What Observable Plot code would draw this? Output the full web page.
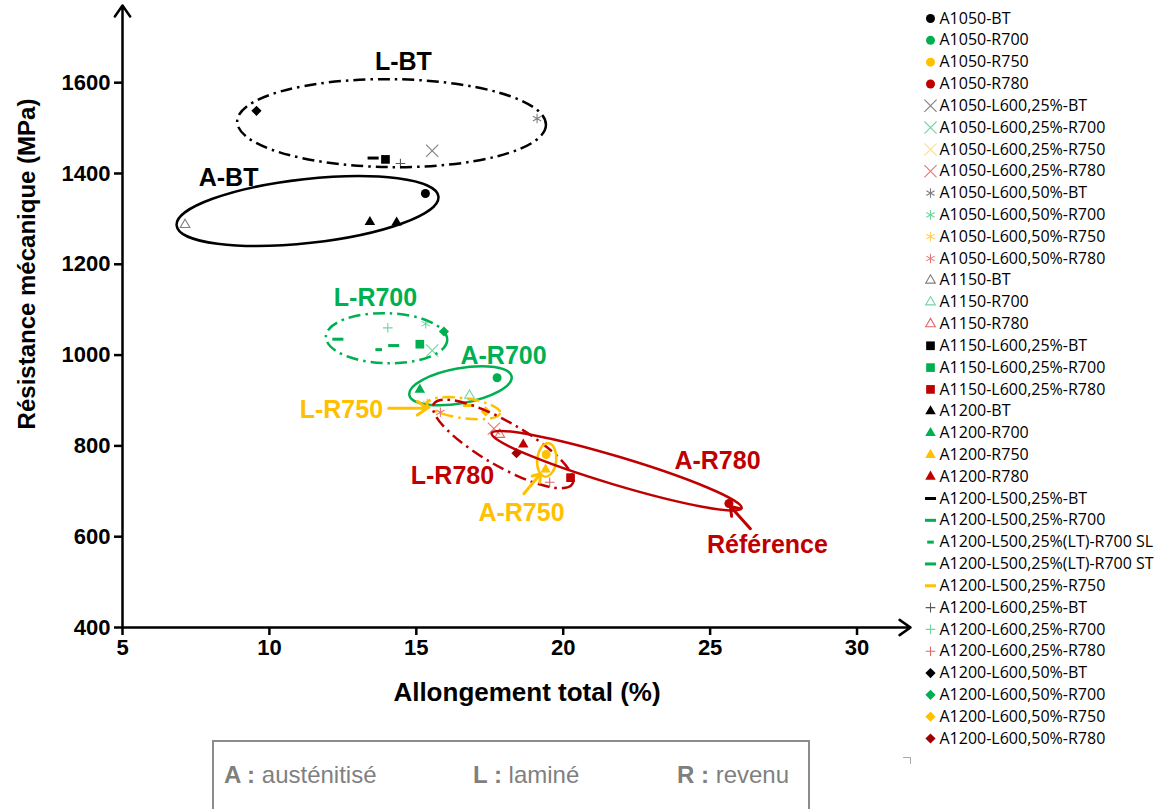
<!DOCTYPE html>
<html><head><meta charset="utf-8">
<script src="https://cdn.jsdelivr.net/npm/d3@7"></script>
<script src="https://cdn.jsdelivr.net/npm/@observablehq/plot@0.6"></script>
<style>
body{margin:0;background:#fff;}
#wrap{position:relative;width:1159px;height:809px;overflow:hidden;font-family:"Liberation Sans",Arial,sans-serif;color:#000;}
#chart{position:absolute;left:0;top:0;width:915px;height:730px;}
#legend{position:absolute;left:915px;top:0;width:244px;height:760px;}
#chart svg{max-width:none !important;}
#legend svg{max-width:none !important;}
.ytitle{position:absolute;left:27px;top:264px;transform:translate(-50%,-50%) rotate(-90deg);white-space:nowrap;font-weight:bold;font-size:24px;}
.xtitle{position:absolute;left:527px;top:692px;transform:translate(-50%,-50%);white-space:nowrap;font-weight:bold;font-size:26px;}
.box{position:absolute;left:212px;top:740px;width:598px;height:90px;border:2px solid #8c8c8c;box-sizing:border-box;}
.bt{position:absolute;top:775px;transform:translateY(-50%);font-size:24px;color:#7f7f7f;white-space:nowrap;}
.bt b{font-weight:bold;}
.corner{position:absolute;left:903px;top:757px;width:7px;height:6px;border-top:1px solid #aaa;border-right:1px solid #aaa;}
</style></head><body><div id="wrap">
<div id="chart"></div><div id="legend"></div>
<div class="ytitle">Résistance mécanique (MPa)</div>
<div class="xtitle">Allongement total (%)</div>
<div class="box"></div>
<div class="bt" style="left:224px"><b>A :</b> austénitisé</div>
<div class="bt" style="left:473px"><b>L :</b> laminé</div>
<div class="bt" style="left:677px"><b>R :</b> revenu</div>
<div class="corner"></div>
</div>
<script>
// ---------- data ----------
const series = [
"A1050-BT","A1050-R700","A1050-R750","A1050-R780",
"A1050-L600,25%-BT","A1050-L600,25%-R700","A1050-L600,25%-R750","A1050-L600,25%-R780",
"A1050-L600,50%-BT","A1050-L600,50%-R700","A1050-L600,50%-R750","A1050-L600,50%-R780",
"A1150-BT","A1150-R700","A1150-R780",
"A1150-L600,25%-BT","A1150-L600,25%-R700","A1150-L600,25%-R780",
"A1200-BT","A1200-R700","A1200-R750","A1200-R780",
"A1200-L500,25%-BT","A1200-L500,25%-R700","A1200-L500,25%(LT)-R700 SL","A1200-L500,25%(LT)-R700 ST","A1200-L500,25%-R750",
"A1200-L600,25%-BT","A1200-L600,25%-R700","A1200-L600,25%-R780",
"A1200-L600,50%-BT","A1200-L600,50%-R700","A1200-L600,50%-R750","A1200-L600,50%-R780"];
const seriesMarker = [
"circle","circle","circle","circle",
"times","times","times","times",
"asterisk","asterisk","asterisk","asterisk",
"triangle2","triangle2","triangle2",
"square","square","square",
"triangle","triangle","triangle","triangle",
"dash","dash","shortdash","dash","dash",
"plus","plus","plus",
"diamond2","diamond2","diamond2","diamond2"];
const seriesColor = [
"#000000","#00b050","#ffc000","#c00000",
"#7f7f7f","#6fd6a0","#ffdf85","#e87474",
"#7f7f7f","#6fd6a0","#ffd15c","#e87474",
"#7f7f7f","#6fd6a0","#e06666",
"#000000","#00b050","#c00000",
"#000000","#00b050","#ffc000","#c00000",
"#000000","#00b050","#00b050","#00b050","#ffc000",
"#595959","#6fd6a0","#e06666",
"#000000","#00b050","#ffc000","#a00000"];

const pointSeries = ["A1050-BT","A1050-R700","A1050-R750","A1050-R780","A1050-L600,25%-BT","A1050-L600,25%-R700","A1050-L600,25%-R780","A1050-L600,50%-BT","A1050-L600,50%-R700","A1050-L600,50%-R750","A1050-L600,50%-R780","A1150-BT","A1150-R700","A1150-R780","A1150-L600,25%-BT","A1150-L600,25%-R700","A1150-L600,25%-R780","A1200-BT","A1200-BT","A1200-R700","A1200-R750","A1200-R780","A1200-L500,25%-BT","A1200-L500,25%-R700","A1200-L500,25%(LT)-R700 SL","A1200-L500,25%(LT)-R700 ST","A1200-L500,25%-R750","A1200-L600,25%-BT","A1200-L600,25%-R700","A1200-L600,25%-R780","A1200-L600,50%-BT","A1200-L600,50%-R700","A1200-L600,50%-R750","A1200-L600,50%-R780"];
const elongation = [15.31,17.75,19.42,25.64,15.54,15.54,17.64,19.11,15.32,15.37,15.82,7.13,16.81,17.84,13.95,15.12,20.25,13.42,14.33,15.12,19.40,18.64,13.53,12.33,13.72,14.23,16.78,14.46,14.03,19.54,9.56,15.94,17.36,18.41];
const strength = [1356,950,781,673,1450,1010,838,1521,1069,894,874,1287,911,825,1431,1024,730,1293,1292,924,748,803,1434,1035,1012,1021,889,1422,1060,720,1538,1052,876,784];

const xTicks = [5,10,15,20,25,30];
const yTicks = [400,600,800,1000,1200,1400,1600];
const xDomain = [5,31.82];
const yDomain = [400,1770];

// group ellipses (major-axis end points in data units)
const ellipseLabel = ["L-BT","A-BT","L-R700","A-R700","L-R750","L-R780","A-R750","A-R780"];
const ellipseX1 = [8.92,6.86,11.94,14.78,15.37,15.61,19.51,17.58];
const ellipseY1 = [1513.5,1284.3,1039.7,911.2,893,891.4,804.8,826.8];
const ellipseX2 = [19.43,15.77,16.07,18.26,17.87,20.33,19.40,26.09];
const ellipseY2 = [1506,1348.2,1032.4,951.6,871,715.1,731.2,661.6];

const labelText = ["L-BT","A-BT","L-R700","A-R700","L-R750","L-R780","A-R750","A-R780","Référence"];
const labelX = [14.56,8.61,13.61,17.97,12.45,16.23,18.58,25.25,26.95];
const labelY = [1645,1389,1125,997,878,733,653,766,581];

const arrowName = ["L-R750","A-R750","Référence"];
const arrowX1 = [14.06,18.66,26.37];
const arrowY1 = [883,694.6,617.5];
const arrowX2 = [15.37,19.23,25.69];
const arrowY2 = [883,738.7,666.6];

// ---------- styles ----------
const groupColor = {"BT":"#000000","R700":"#00b050","R750":"#ffc000","R780":"#c00000"};
const colorOf = name => name === "Référence" ? groupColor.R780 : groupColor[name.split("-")[1]];
const ellipseStyle = {
  "L-BT":{b:44,dash:true},"A-BT":{b:32,dash:false},"L-R700":{b:25,dash:true},"A-R700":{b:17.5,dash:false},
  "L-R750":{b:10,dash:true},"L-R780":{b:22,dash:true},"A-R750":{b:9.5,dash:false},"A-R780":{b:14,dash:false}};
const dashSymbol = {draw(ctx, size){ const w = Math.sqrt(size)*1.25; ctx.moveTo(-w/2,0); ctx.lineTo(w/2,0); }};
const markerStyle = {
  circle:{symbol:"circle", r:4.5, fill:true},
  square:{symbol:"square", r:4.9, fill:true},
  triangle:{symbol:"triangle", r:3.9, fill:true},
  diamond2:{symbol:"diamond2", r:4.6, fill:true},
  times:{symbol:"times", r:5.6, sw:1.1},
  asterisk:{symbol:"asterisk", r:4.5, sw:1.1},
  triangle2:{symbol:"triangle2", r:4.6, sw:1.1},
  plus:{symbol:"plus", r:3.2, sw:1.1},
  dash:{symbol:dashSymbol, r:5, sw:3},
  shortdash:{symbol:dashSymbol, r:3, sw:3}
};

// ---------- tables ----------
const points = pointSeries.map((s,i)=>({series:s, x:elongation[i], y:strength[i], marker:seriesMarker[series.indexOf(s)]}));
const ellipses = ellipseLabel.map((l,i)=>({label:l, x1:ellipseX1[i], y1:ellipseY1[i], x2:ellipseX2[i], y2:ellipseY2[i]}));
const labels = labelText.map((t,i)=>({text:t, x:labelX[i], y:labelY[i], color:colorOf(t)}));
const arrows = arrowName.map((n,i)=>({name:n, x1:arrowX1[i], y1:arrowY1[i], x2:arrowX2[i], y2:arrowY2[i], color:colorOf(n)}));
const legendItems = series.map((s,i)=>({series:s, marker:seriesMarker[i]}));

function dotMarks(data, opts) {
  return Object.keys(markerStyle).map(k => {
    const st = markerStyle[k];
    const d = data.filter(p => p.marker === k);
    if (!d.length) return null;
    const o = Object.assign({symbol: st.symbol, r: st.r}, opts);
    if (st.fill) { o.fill = "series"; o.stroke = "none"; }
    else { o.stroke = "series"; o.fill = "none"; o.strokeWidth = st.sw; }
    return Plot.dot(d, o);
  }).filter(Boolean);
}

function ellipseMark(index, scales) {
  const x = scales.x, y = scales.y;
  const g = d3.create("svg:g");
  for (const e of ellipses) {
    const st = ellipseStyle[e.label];
    const px1 = x(e.x1), py1 = y(e.y1), px2 = x(e.x2), py2 = y(e.y2);
    const cx = (px1+px2)/2, cy = (py1+py2)/2;
    const a = Math.hypot(px2-px1, py2-py1)/2;
    const ang = Math.atan2(py2-py1, px2-px1)*180/Math.PI;
    g.append("ellipse").attr("cx",cx).attr("cy",cy).attr("rx",a).attr("ry",st.b)
      .attr("transform",`rotate(${ang} ${cx} ${cy})`)
      .attr("fill","none").attr("stroke",colorOf(e.label)).attr("stroke-width",2.5)
      .attr("stroke-dasharray", st.dash ? "12 5 2.5 5" : null);
  }
  return g.node();
}

const colors = [...new Set(labels.map(l=>l.color))];

const chart = Plot.plot({
  width: 915, height: 730,
  marginLeft: 122, marginRight: 5, marginTop: 5, marginBottom: 103,
  x: {domain: xDomain},
  y: {domain: yDomain},
  color: {type: "ordinal", domain: series, range: seriesColor},
  style: {fontFamily: "Liberation Sans, Arial, sans-serif", color: "#000", background: "transparent", overflow: "visible"},
  marks: [
    ...dotMarks(points, {x: "x", y: "y"}),
    ellipseMark,
    ...colors.map(c => Plot.arrow(arrows.filter(a=>a.color===c), {x1:"x1", y1:"y1", x2:"x2", y2:"y2", stroke:c, strokeWidth:3, headLength:6, headAngle:70})),
    ...colors.map(c => Plot.text(labels.filter(l=>l.color===c), {x:"x", y:"y", text:"text", fill:c, fontSize:25, fontWeight:"bold"})),
    Plot.axisX({ticks: xTicks, tickFormat: d=>String(d), tickSize: 8, tickPadding: 4, strokeWidth: 2.5, fontSize: 22, fontWeight: "bold", label: null}),
    Plot.axisY({ticks: yTicks, tickFormat: d=>String(d), tickSize: 8, tickPadding: 4, strokeWidth: 2.5, fontSize: 22, fontWeight: "bold", label: null}),
    Plot.arrow([0], {x1: xDomain[0], y1: yDomain[0], x2: xDomain[1], y2: yDomain[0], stroke: "#000", strokeWidth: 2.5, headLength: 8, headAngle: 70}),
    Plot.arrow([0], {x1: xDomain[0], y1: yDomain[0], x2: xDomain[0], y2: yDomain[1], stroke: "#000", strokeWidth: 2.5, headLength: 8, headAngle: 70})
  ]
});
document.getElementById("chart").appendChild(chart);

const legend = Plot.plot({
  width: 244, height: 760,
  marginLeft: 15, marginRight: 0, marginTop: 18, marginBottom: 22,
  x: {domain: [0,1], axis: null},
  y: {type: "point", domain: series, padding: 0, round: false, axis: null},
  color: {type: "ordinal", domain: series, range: seriesColor},
  style: {fontFamily: "Open Sans, Noto Sans, sans-serif", color: "#000", background: "transparent", overflow: "visible"},
  marks: [
    ...dotMarks(legendItems, {y: "series", frameAnchor: "left"}),
    Plot.text(legendItems, {y: "series", text: "series", frameAnchor: "left", dx: 9, textAnchor: "start", fontSize: 16, fill: "#000"})
  ]
});
document.getElementById("legend").appendChild(legend);
</script>
</body></html>
